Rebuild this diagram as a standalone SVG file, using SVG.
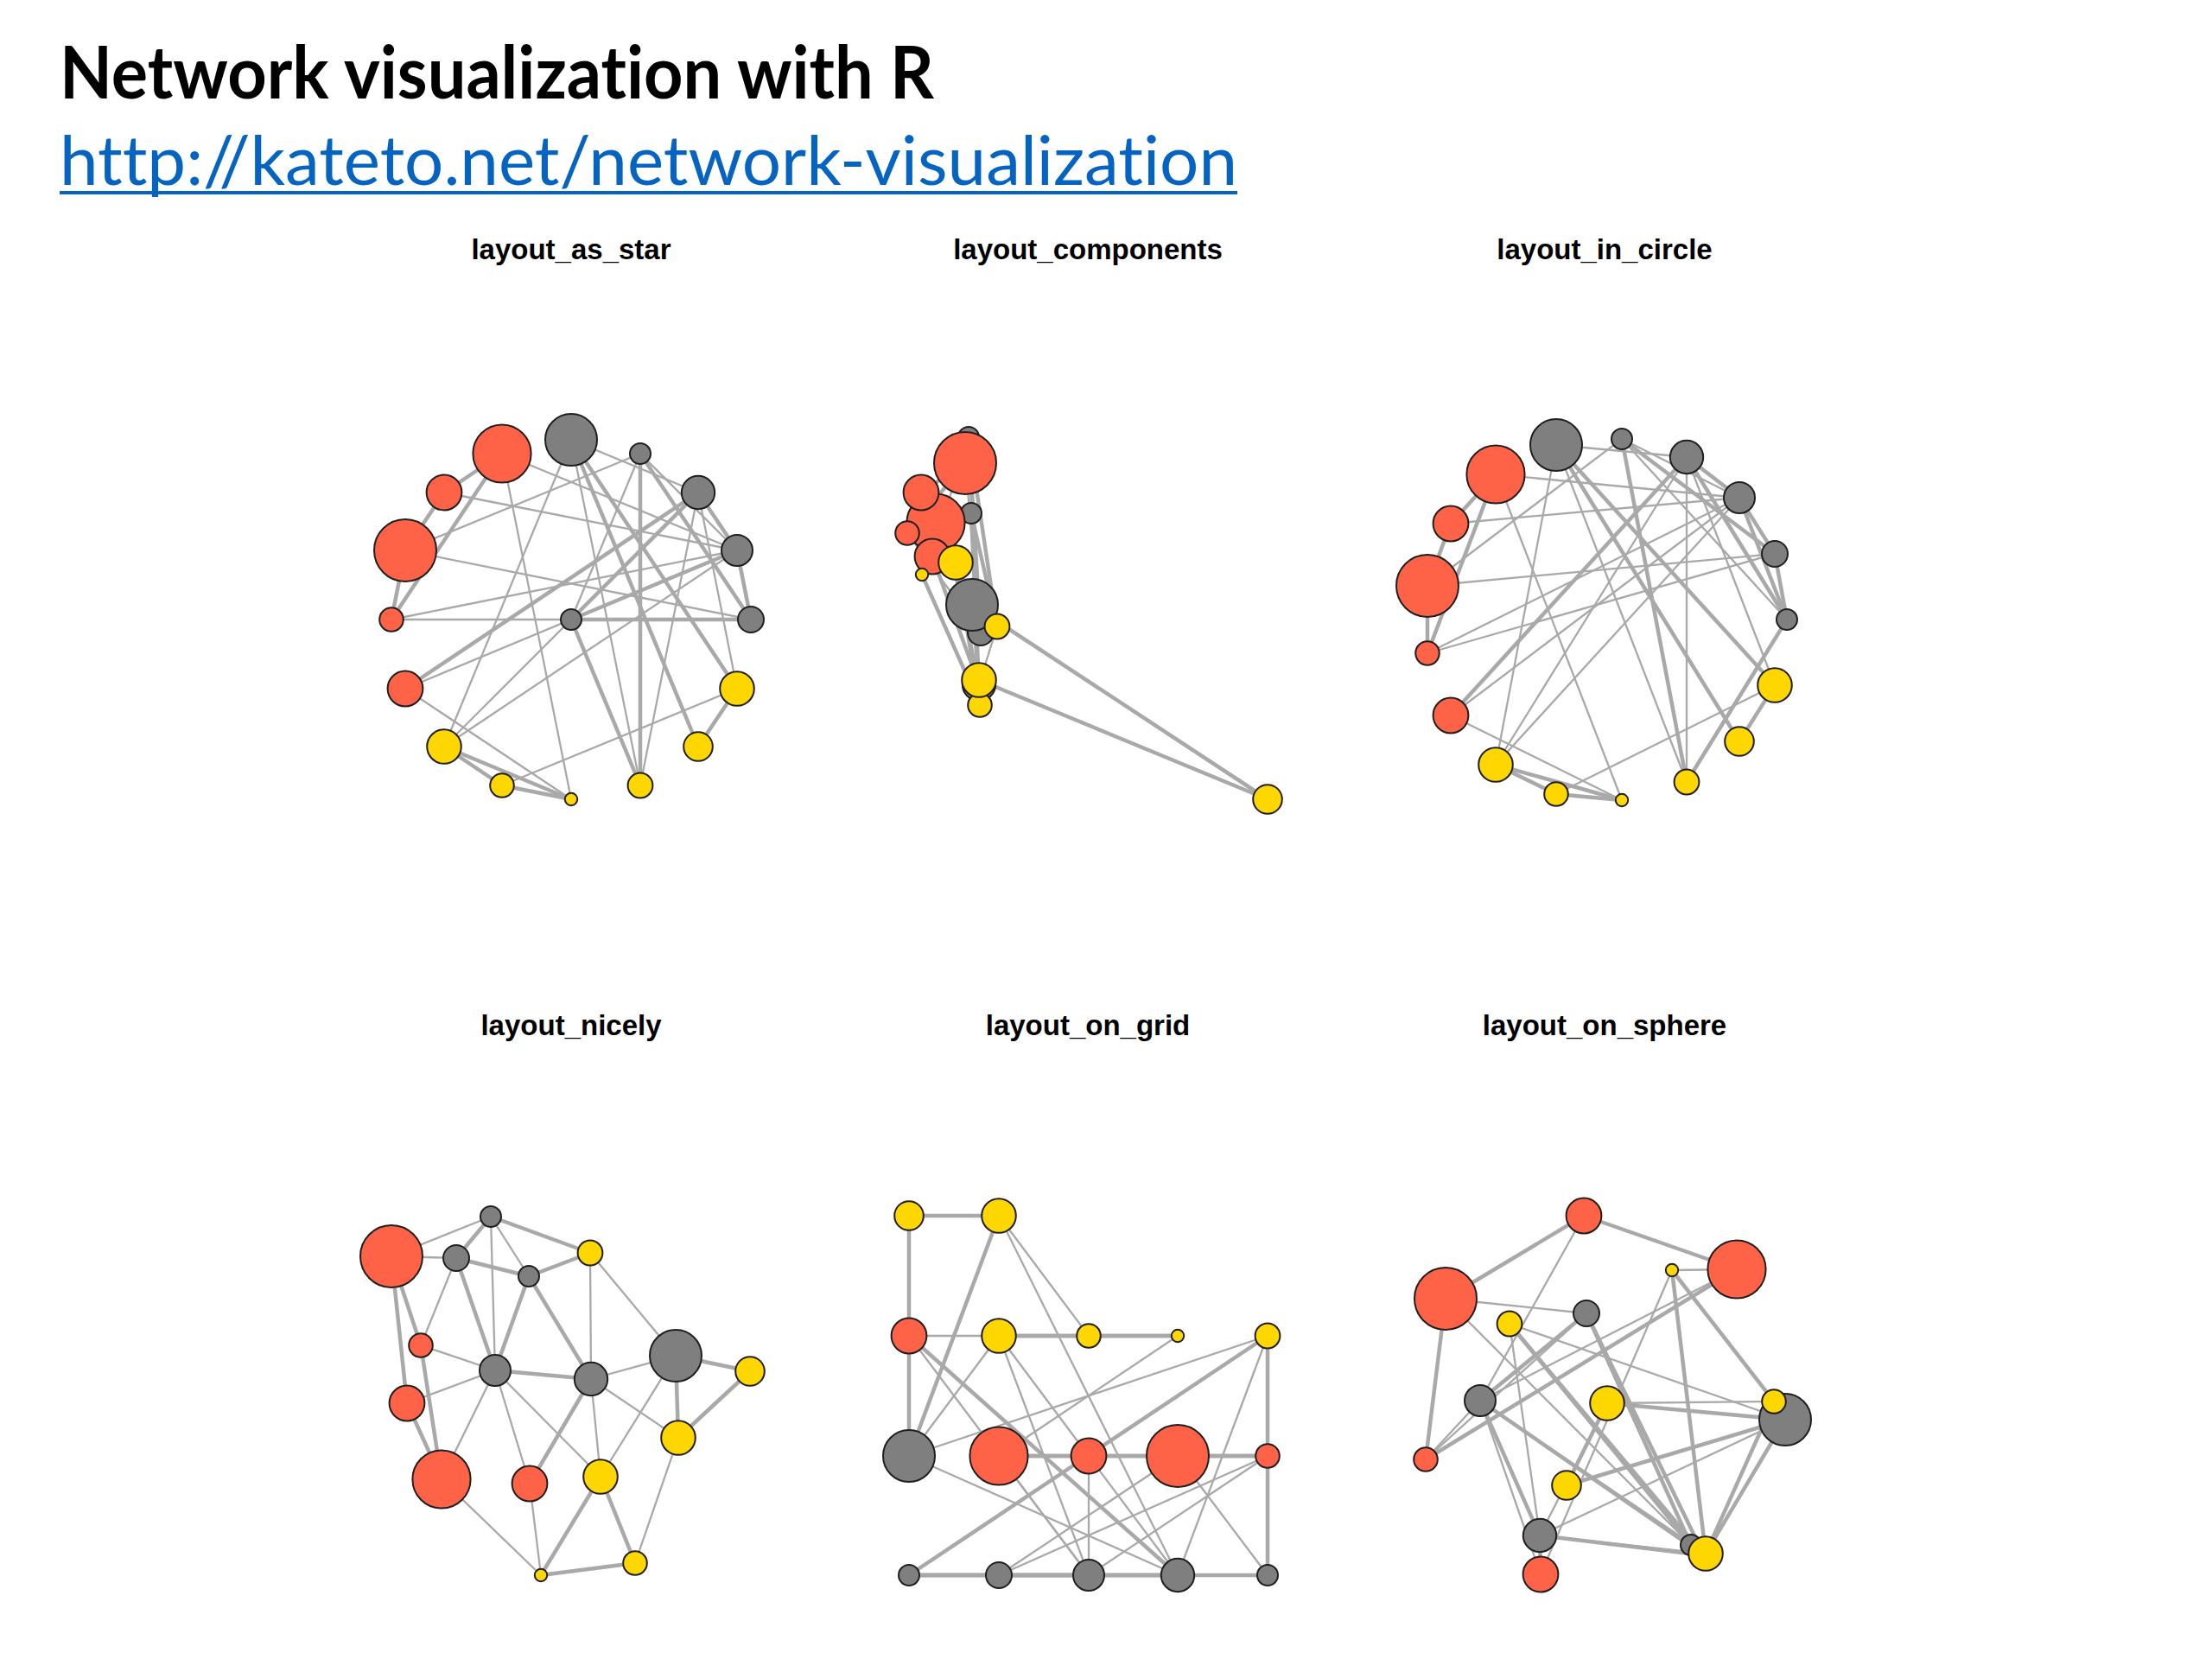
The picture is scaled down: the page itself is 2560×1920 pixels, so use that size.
<svg xmlns="http://www.w3.org/2000/svg" width="2560" height="1920" viewBox="0 0 2560 1920">
<style>
.edges line{stroke:#A9A9A9;stroke-linecap:round}
.T{stroke-width:4.5}
.t{stroke-width:2.3}
circle{stroke:#1f1f1f;stroke-width:2}
.g{fill:#7F7F7F}
.r{fill:#FF6347}
.y{fill:#FFD700}
.hd{font-family:Lato,"Open Sans",sans-serif;font-variant-ligatures:none;font-feature-settings:"liga" 0,"clig" 0}
.pt{font-family:"Liberation Sans",Arial,sans-serif;font-weight:bold;font-size:33px;text-anchor:middle;fill:#000}
</style>
<rect width="2560" height="1920" fill="#fff"/>
<g id="header">
<text class="hd" x="69" y="114" font-weight="bold" font-size="84" textLength="1012" lengthAdjust="spacingAndGlyphs" fill="#000">Network visualization with R</text>
<text class="hd" x="69" y="214" font-size="80" textLength="1363" lengthAdjust="spacingAndGlyphs" fill="#0563C1">http://kateto.net/network-visualization</text>
<rect x="69" y="221" width="1363" height="4" fill="#0563C1"/>
</g>
<g id="titles">
<text class="pt" x="661" y="300">layout_as_star</text>
<text class="pt" x="1259" y="300">layout_components</text>
<text class="pt" x="1857" y="300">layout_in_circle</text>
<text class="pt" x="661" y="1198">layout_nicely</text>
<text class="pt" x="1259" y="1198">layout_on_grid</text>
<text class="pt" x="1857" y="1198">layout_on_sphere</text>
</g>

<!-- Panel 1: layout_as_star -->
<g id="p1-edges" class="edges">
<line class="T" x1="661" y1="717" x2="869" y2="717"/>
<line class="T" x1="661" y1="717" x2="853" y2="637"/>
<line class="T" x1="661" y1="717" x2="808" y2="570"/>
<line class="T" x1="808" y1="570" x2="469" y2="797"/>
<line class="T" x1="741" y1="525" x2="741" y2="909"/>
<line class="T" x1="661" y1="509" x2="853" y2="797"/>
<line class="t" x1="853" y1="637" x2="514" y2="570"/>
<line class="T" x1="581" y1="525" x2="514" y2="570"/>
<line class="T" x1="869" y1="717" x2="853" y2="637"/>
<line class="T" x1="853" y1="637" x2="808" y2="570"/>
<line class="t" x1="853" y1="637" x2="741" y2="525"/>
<line class="t" x1="853" y1="637" x2="453" y2="717"/>
<line class="t" x1="853" y1="637" x2="469" y2="797"/>
<line class="t" x1="853" y1="637" x2="514" y2="864"/>
<line class="t" x1="808" y1="570" x2="661" y2="509"/>
<line class="t" x1="808" y1="570" x2="514" y2="864"/>
<line class="t" x1="808" y1="570" x2="853" y2="797"/>
<line class="t" x1="661" y1="717" x2="741" y2="525"/>
<line class="T" x1="869" y1="717" x2="741" y2="525"/>
<line class="t" x1="741" y1="525" x2="469" y2="637"/>
<line class="T" x1="661" y1="509" x2="808" y2="864"/>
<line class="t" x1="853" y1="637" x2="581" y2="525"/>
<line class="T" x1="581" y1="525" x2="453" y2="717"/>
<line class="t" x1="581" y1="525" x2="661" y2="925"/>
<line class="T" x1="514" y1="570" x2="469" y2="637"/>
<line class="T" x1="469" y1="637" x2="453" y2="717"/>
<line class="t" x1="661" y1="509" x2="514" y2="864"/>
<line class="T" x1="514" y1="864" x2="581" y2="909"/>
<line class="T" x1="514" y1="864" x2="661" y2="925"/>
<line class="t" x1="581" y1="909" x2="853" y2="797"/>
<line class="t" x1="469" y1="797" x2="661" y2="925"/>
<line class="T" x1="581" y1="909" x2="661" y2="925"/>
<line class="T" x1="661" y1="717" x2="741" y2="909"/>
<line class="t" x1="808" y1="570" x2="741" y2="909"/>
<line class="t" x1="661" y1="509" x2="741" y2="909"/>
<line class="T" x1="808" y1="864" x2="853" y2="797"/>
<line class="t" x1="869" y1="717" x2="469" y2="637"/>
<line class="t" x1="869" y1="717" x2="453" y2="717"/>
</g>
<g id="p1-nodes">
<g id="p1-s01"><circle class="g" cx="661" cy="717" r="12"/></g>
<g id="p1-s02"><circle class="g" cx="869" cy="717" r="15"/></g>
<g id="p1-s03"><circle class="g" cx="853" cy="637" r="18"/></g>
<g id="p1-s04"><circle class="g" cx="808" cy="570" r="19.2"/></g>
<g id="p1-s05"><circle class="g" cx="741" cy="525" r="12"/></g>
<g id="p1-s06"><circle class="g" cx="661" cy="509" r="30"/></g>
<g id="p1-s07"><circle class="r" cx="581" cy="525" r="33.6"/></g>
<g id="p1-s08"><circle class="r" cx="514" cy="570" r="20.4"/></g>
<g id="p1-s09"><circle class="r" cx="469" cy="637" r="36"/></g>
<g id="p1-s10"><circle class="r" cx="453" cy="717" r="13.8"/></g>
<g id="p1-s11"><circle class="r" cx="469" cy="797" r="20.4"/></g>
<g id="p1-s12"><circle class="y" cx="514" cy="864" r="19.8"/></g>
<g id="p1-s13"><circle class="y" cx="581" cy="909" r="13.8"/></g>
<g id="p1-s14"><circle class="y" cx="661" cy="925" r="7.2"/></g>
<g id="p1-s15"><circle class="y" cx="741" cy="909" r="14.4"/></g>
<g id="p1-s16"><circle class="y" cx="808" cy="864" r="16.8"/></g>
<g id="p1-s17"><circle class="y" cx="853" cy="797" r="19.8"/></g>
</g>

<!-- Panel 2: layout_components -->
<g id="p2-edges" class="edges">
<line class="T" x1="1124" y1="594" x2="1135" y2="732"/>
<line class="T" x1="1124" y1="594" x2="1092" y2="598"/>
<line class="T" x1="1124" y1="594" x2="1133" y2="792"/>
<line class="T" x1="1133" y1="792" x2="1079" y2="644"/>
<line class="T" x1="1121" y1="506" x2="1154" y2="725"/>
<line class="T" x1="1125" y1="700" x2="1133" y2="787"/>
<line class="t" x1="1092" y1="598" x2="1066" y2="570"/>
<line class="T" x1="1083" y1="605" x2="1066" y2="570"/>
<line class="T" x1="1135" y1="732" x2="1092" y2="598"/>
<line class="T" x1="1092" y1="598" x2="1133" y2="792"/>
<line class="t" x1="1092" y1="598" x2="1121" y2="506"/>
<line class="t" x1="1092" y1="598" x2="1050" y2="617"/>
<line class="t" x1="1092" y1="598" x2="1079" y2="644"/>
<line class="t" x1="1092" y1="598" x2="1106" y2="651"/>
<line class="t" x1="1133" y1="792" x2="1125" y2="700"/>
<line class="t" x1="1133" y1="792" x2="1106" y2="651"/>
<line class="t" x1="1124" y1="594" x2="1121" y2="506"/>
<line class="T" x1="1135" y1="732" x2="1121" y2="506"/>
<line class="t" x1="1121" y1="506" x2="1117" y2="536"/>
<line class="T" x1="1125" y1="700" x2="1467" y2="925"/>
<line class="t" x1="1092" y1="598" x2="1083" y2="605"/>
<line class="T" x1="1083" y1="605" x2="1050" y2="617"/>
<line class="t" x1="1083" y1="605" x2="1067" y2="665"/>
<line class="T" x1="1066" y1="570" x2="1117" y2="536"/>
<line class="T" x1="1117" y1="536" x2="1050" y2="617"/>
<line class="t" x1="1125" y1="700" x2="1106" y2="651"/>
<line class="T" x1="1106" y1="651" x2="1134" y2="816"/>
<line class="T" x1="1106" y1="651" x2="1067" y2="665"/>
<line class="t" x1="1134" y1="816" x2="1133" y2="787"/>
<line class="t" x1="1079" y1="644" x2="1067" y2="665"/>
<line class="T" x1="1134" y1="816" x2="1067" y2="665"/>
<line class="T" x1="1124" y1="594" x2="1154" y2="725"/>
<line class="t" x1="1133" y1="792" x2="1154" y2="725"/>
<line class="t" x1="1125" y1="700" x2="1154" y2="725"/>
<line class="T" x1="1467" y1="925" x2="1133" y2="787"/>
<line class="t" x1="1135" y1="732" x2="1117" y2="536"/>
<line class="t" x1="1135" y1="732" x2="1050" y2="617"/>
</g>
<g id="p2-nodes">
<g id="p2-s01"><circle class="g" cx="1124" cy="594" r="12"/></g>
<g id="p2-s02"><circle class="g" cx="1135" cy="732" r="15"/></g>
<g id="p2-s03"><circle class="g" cx="1092" cy="598" r="18"/></g>
<g id="p2-s04"><circle class="g" cx="1133" cy="792" r="19.2"/></g>
<g id="p2-s05"><circle class="g" cx="1121" cy="506" r="12"/></g>
<g id="p2-s06"><circle class="g" cx="1125" cy="700" r="30"/></g>
<g id="p2-s07"><circle class="r" cx="1083" cy="605" r="33.6"/></g>
<g id="p2-s08"><circle class="r" cx="1066" cy="570" r="20.4"/></g>
<g id="p2-s09"><circle class="r" cx="1117" cy="536" r="36"/></g>
<g id="p2-s10"><circle class="r" cx="1050" cy="617" r="13.8"/></g>
<g id="p2-s11"><circle class="r" cx="1079" cy="644" r="20.4"/></g>
<g id="p2-s12"><circle class="y" cx="1106" cy="651" r="19.8"/></g>
<g id="p2-s13"><circle class="y" cx="1134" cy="816" r="13.8"/></g>
<g id="p2-s14"><circle class="y" cx="1067" cy="665" r="7.2"/></g>
<g id="p2-s15"><circle class="y" cx="1154" cy="725" r="14.4"/></g>
<g id="p2-s16"><circle class="y" cx="1467" cy="925" r="16.8"/></g>
<g id="p2-s17"><circle class="y" cx="1133" cy="787" r="19.8"/></g>
</g>

<!-- Panel 3: layout_in_circle -->
<g id="p3-edges" class="edges">
<line class="T" x1="2068" y1="717" x2="2054" y2="641"/>
<line class="T" x1="2068" y1="717" x2="2013" y2="576"/>
<line class="T" x1="2068" y1="717" x2="1952" y2="529"/>
<line class="T" x1="1952" y1="529" x2="1679" y2="828"/>
<line class="T" x1="1877" y1="508" x2="1952" y2="905"/>
<line class="T" x1="1801" y1="515" x2="2054" y2="793"/>
<line class="t" x1="2013" y1="576" x2="1679" y2="606"/>
<line class="T" x1="1731" y1="549" x2="1679" y2="606"/>
<line class="T" x1="2054" y1="641" x2="2013" y2="576"/>
<line class="T" x1="2013" y1="576" x2="1952" y2="529"/>
<line class="t" x1="2013" y1="576" x2="1877" y2="508"/>
<line class="t" x1="2013" y1="576" x2="1652" y2="756"/>
<line class="t" x1="2013" y1="576" x2="1679" y2="828"/>
<line class="t" x1="2013" y1="576" x2="1731" y2="885"/>
<line class="t" x1="1952" y1="529" x2="1801" y2="515"/>
<line class="t" x1="1952" y1="529" x2="1731" y2="885"/>
<line class="t" x1="1952" y1="529" x2="2054" y2="793"/>
<line class="t" x1="2068" y1="717" x2="1877" y2="508"/>
<line class="T" x1="2054" y1="641" x2="1877" y2="508"/>
<line class="t" x1="1877" y1="508" x2="1652" y2="678"/>
<line class="T" x1="1801" y1="515" x2="2013" y2="858"/>
<line class="t" x1="2013" y1="576" x2="1731" y2="549"/>
<line class="T" x1="1731" y1="549" x2="1652" y2="756"/>
<line class="t" x1="1731" y1="549" x2="1877" y2="926"/>
<line class="T" x1="1679" y1="606" x2="1652" y2="678"/>
<line class="T" x1="1652" y1="678" x2="1652" y2="756"/>
<line class="t" x1="1801" y1="515" x2="1731" y2="885"/>
<line class="T" x1="1731" y1="885" x2="1801" y2="919"/>
<line class="T" x1="1731" y1="885" x2="1877" y2="926"/>
<line class="t" x1="1801" y1="919" x2="2054" y2="793"/>
<line class="t" x1="1679" y1="828" x2="1877" y2="926"/>
<line class="T" x1="1801" y1="919" x2="1877" y2="926"/>
<line class="T" x1="2068" y1="717" x2="1952" y2="905"/>
<line class="t" x1="1952" y1="529" x2="1952" y2="905"/>
<line class="t" x1="1801" y1="515" x2="1952" y2="905"/>
<line class="T" x1="2013" y1="858" x2="2054" y2="793"/>
<line class="t" x1="2054" y1="641" x2="1652" y2="678"/>
<line class="t" x1="2054" y1="641" x2="1652" y2="756"/>
</g>
<g id="p3-nodes">
<g id="p3-s01"><circle class="g" cx="2068" cy="717" r="12"/></g>
<g id="p3-s02"><circle class="g" cx="2054" cy="641" r="15"/></g>
<g id="p3-s03"><circle class="g" cx="2013" cy="576" r="18"/></g>
<g id="p3-s04"><circle class="g" cx="1952" cy="529" r="19.2"/></g>
<g id="p3-s05"><circle class="g" cx="1877" cy="508" r="12"/></g>
<g id="p3-s06"><circle class="g" cx="1801" cy="515" r="30"/></g>
<g id="p3-s07"><circle class="r" cx="1731" cy="549" r="33.6"/></g>
<g id="p3-s08"><circle class="r" cx="1679" cy="606" r="20.4"/></g>
<g id="p3-s09"><circle class="r" cx="1652" cy="678" r="36"/></g>
<g id="p3-s10"><circle class="r" cx="1652" cy="756" r="13.8"/></g>
<g id="p3-s11"><circle class="r" cx="1679" cy="828" r="20.4"/></g>
<g id="p3-s12"><circle class="y" cx="1731" cy="885" r="19.8"/></g>
<g id="p3-s13"><circle class="y" cx="1801" cy="919" r="13.8"/></g>
<g id="p3-s14"><circle class="y" cx="1877" cy="926" r="7.2"/></g>
<g id="p3-s15"><circle class="y" cx="1952" cy="905" r="14.4"/></g>
<g id="p3-s16"><circle class="y" cx="2013" cy="858" r="16.8"/></g>
<g id="p3-s17"><circle class="y" cx="2054" cy="793" r="19.8"/></g>
</g>

<!-- Panel 4: layout_nicely -->
<g id="p4-edges" class="edges">
<line class="T" x1="612" y1="1477" x2="528" y2="1456"/>
<line class="T" x1="612" y1="1477" x2="573" y2="1586"/>
<line class="T" x1="612" y1="1477" x2="684" y2="1596"/>
<line class="T" x1="684" y1="1596" x2="613" y2="1717"/>
<line class="T" x1="568" y1="1408" x2="683" y2="1450"/>
<line class="T" x1="782" y1="1569" x2="785" y2="1664"/>
<line class="t" x1="573" y1="1586" x2="471" y2="1624"/>
<line class="T" x1="511" y1="1712" x2="471" y2="1624"/>
<line class="T" x1="528" y1="1456" x2="573" y2="1586"/>
<line class="T" x1="573" y1="1586" x2="684" y2="1596"/>
<line class="t" x1="573" y1="1586" x2="568" y2="1408"/>
<line class="t" x1="573" y1="1586" x2="487" y2="1557"/>
<line class="t" x1="573" y1="1586" x2="613" y2="1717"/>
<line class="t" x1="573" y1="1586" x2="695" y2="1709"/>
<line class="t" x1="684" y1="1596" x2="782" y2="1569"/>
<line class="t" x1="684" y1="1596" x2="695" y2="1709"/>
<line class="t" x1="684" y1="1596" x2="785" y2="1664"/>
<line class="t" x1="612" y1="1477" x2="568" y2="1408"/>
<line class="T" x1="528" y1="1456" x2="568" y2="1408"/>
<line class="t" x1="568" y1="1408" x2="453" y2="1454"/>
<line class="T" x1="782" y1="1569" x2="868" y2="1587"/>
<line class="t" x1="573" y1="1586" x2="511" y2="1712"/>
<line class="T" x1="511" y1="1712" x2="487" y2="1557"/>
<line class="t" x1="511" y1="1712" x2="626" y2="1823"/>
<line class="T" x1="471" y1="1624" x2="453" y2="1454"/>
<line class="T" x1="453" y1="1454" x2="487" y2="1557"/>
<line class="t" x1="782" y1="1569" x2="695" y2="1709"/>
<line class="T" x1="695" y1="1709" x2="735" y2="1809"/>
<line class="T" x1="695" y1="1709" x2="626" y2="1823"/>
<line class="t" x1="735" y1="1809" x2="785" y2="1664"/>
<line class="t" x1="613" y1="1717" x2="626" y2="1823"/>
<line class="T" x1="735" y1="1809" x2="626" y2="1823"/>
<line class="T" x1="612" y1="1477" x2="683" y2="1450"/>
<line class="t" x1="684" y1="1596" x2="683" y2="1450"/>
<line class="t" x1="782" y1="1569" x2="683" y2="1450"/>
<line class="T" x1="868" y1="1587" x2="785" y2="1664"/>
<line class="t" x1="528" y1="1456" x2="453" y2="1454"/>
<line class="t" x1="528" y1="1456" x2="487" y2="1557"/>
</g>
<g id="p4-nodes">
<g id="p4-s01"><circle class="g" cx="612" cy="1477" r="12"/></g>
<g id="p4-s02"><circle class="g" cx="528" cy="1456" r="15"/></g>
<g id="p4-s03"><circle class="g" cx="573" cy="1586" r="18"/></g>
<g id="p4-s04"><circle class="g" cx="684" cy="1596" r="19.2"/></g>
<g id="p4-s05"><circle class="g" cx="568" cy="1408" r="12"/></g>
<g id="p4-s06"><circle class="g" cx="782" cy="1569" r="30"/></g>
<g id="p4-s07"><circle class="r" cx="511" cy="1712" r="33.6"/></g>
<g id="p4-s08"><circle class="r" cx="471" cy="1624" r="20.4"/></g>
<g id="p4-s09"><circle class="r" cx="453" cy="1454" r="36"/></g>
<g id="p4-s10"><circle class="r" cx="487" cy="1557" r="13.8"/></g>
<g id="p4-s11"><circle class="r" cx="613" cy="1717" r="20.4"/></g>
<g id="p4-s12"><circle class="y" cx="695" cy="1709" r="19.8"/></g>
<g id="p4-s13"><circle class="y" cx="735" cy="1809" r="13.8"/></g>
<g id="p4-s14"><circle class="y" cx="626" cy="1823" r="7.2"/></g>
<g id="p4-s15"><circle class="y" cx="683" cy="1450" r="14.4"/></g>
<g id="p4-s16"><circle class="y" cx="868" cy="1587" r="16.8"/></g>
<g id="p4-s17"><circle class="y" cx="785" cy="1664" r="19.8"/></g>
</g>

<!-- Panel 5: layout_on_grid -->
<g id="p5-edges" class="edges">
<line class="T" x1="1052" y1="1823" x2="1156" y2="1823"/>
<line class="T" x1="1052" y1="1823" x2="1260" y2="1823"/>
<line class="T" x1="1052" y1="1823" x2="1363" y2="1823"/>
<line class="T" x1="1363" y1="1823" x2="1052" y2="1546"/>
<line class="T" x1="1467" y1="1823" x2="1467" y2="1546"/>
<line class="T" x1="1052" y1="1685" x2="1156" y2="1407"/>
<line class="t" x1="1260" y1="1823" x2="1260" y2="1685"/>
<line class="T" x1="1156" y1="1685" x2="1260" y2="1685"/>
<line class="T" x1="1156" y1="1823" x2="1260" y2="1823"/>
<line class="T" x1="1260" y1="1823" x2="1363" y2="1823"/>
<line class="t" x1="1260" y1="1823" x2="1467" y2="1823"/>
<line class="t" x1="1260" y1="1823" x2="1467" y2="1685"/>
<line class="t" x1="1260" y1="1823" x2="1052" y2="1546"/>
<line class="t" x1="1260" y1="1823" x2="1156" y2="1546"/>
<line class="t" x1="1363" y1="1823" x2="1052" y2="1685"/>
<line class="t" x1="1363" y1="1823" x2="1156" y2="1546"/>
<line class="t" x1="1363" y1="1823" x2="1156" y2="1407"/>
<line class="t" x1="1052" y1="1823" x2="1467" y2="1823"/>
<line class="T" x1="1156" y1="1823" x2="1467" y2="1823"/>
<line class="t" x1="1467" y1="1823" x2="1363" y2="1685"/>
<line class="T" x1="1052" y1="1685" x2="1052" y2="1407"/>
<line class="t" x1="1260" y1="1823" x2="1156" y2="1685"/>
<line class="T" x1="1156" y1="1685" x2="1467" y2="1685"/>
<line class="t" x1="1156" y1="1685" x2="1363" y2="1546"/>
<line class="T" x1="1260" y1="1685" x2="1363" y2="1685"/>
<line class="T" x1="1363" y1="1685" x2="1467" y2="1685"/>
<line class="t" x1="1052" y1="1685" x2="1156" y2="1546"/>
<line class="T" x1="1156" y1="1546" x2="1260" y2="1546"/>
<line class="T" x1="1156" y1="1546" x2="1363" y2="1546"/>
<line class="t" x1="1260" y1="1546" x2="1156" y2="1407"/>
<line class="t" x1="1052" y1="1546" x2="1363" y2="1546"/>
<line class="T" x1="1260" y1="1546" x2="1363" y2="1546"/>
<line class="T" x1="1052" y1="1823" x2="1467" y2="1546"/>
<line class="t" x1="1363" y1="1823" x2="1467" y2="1546"/>
<line class="t" x1="1052" y1="1685" x2="1467" y2="1546"/>
<line class="T" x1="1052" y1="1407" x2="1156" y2="1407"/>
<line class="t" x1="1156" y1="1823" x2="1363" y2="1685"/>
<line class="t" x1="1156" y1="1823" x2="1467" y2="1685"/>
</g>
<g id="p5-nodes">
<g id="p5-s01"><circle class="g" cx="1052" cy="1823" r="12"/></g>
<g id="p5-s02"><circle class="g" cx="1156" cy="1823" r="15"/></g>
<g id="p5-s03"><circle class="g" cx="1260" cy="1823" r="18"/></g>
<g id="p5-s04"><circle class="g" cx="1363" cy="1823" r="19.2"/></g>
<g id="p5-s05"><circle class="g" cx="1467" cy="1823" r="12"/></g>
<g id="p5-s06"><circle class="g" cx="1052" cy="1685" r="30"/></g>
<g id="p5-s07"><circle class="r" cx="1156" cy="1685" r="33.6"/></g>
<g id="p5-s08"><circle class="r" cx="1260" cy="1685" r="20.4"/></g>
<g id="p5-s09"><circle class="r" cx="1363" cy="1685" r="36"/></g>
<g id="p5-s10"><circle class="r" cx="1467" cy="1685" r="13.8"/></g>
<g id="p5-s11"><circle class="r" cx="1052" cy="1546" r="20.4"/></g>
<g id="p5-s12"><circle class="y" cx="1156" cy="1546" r="19.8"/></g>
<g id="p5-s13"><circle class="y" cx="1260" cy="1546" r="13.8"/></g>
<g id="p5-s14"><circle class="y" cx="1363" cy="1546" r="7.2"/></g>
<g id="p5-s15"><circle class="y" cx="1467" cy="1546" r="14.4"/></g>
<g id="p5-s16"><circle class="y" cx="1052" cy="1407" r="16.8"/></g>
<g id="p5-s17"><circle class="y" cx="1156" cy="1407" r="19.8"/></g>
</g>

<!-- Panel 6: layout_on_sphere -->
<g id="p6-edges" class="edges">
<line class="T" x1="1972" y1="1800" x2="1836" y2="1520"/>
<line class="T" x1="1972" y1="1800" x2="1713" y2="1621"/>
<line class="T" x1="1972" y1="1800" x2="1782" y2="1777"/>
<line class="T" x1="1782" y1="1777" x2="1783" y2="1822"/>
<line class="T" x1="1957" y1="1788" x2="1747" y2="1532"/>
<line class="T" x1="2066" y1="1643" x2="1860" y2="1624"/>
<line class="t" x1="1713" y1="1621" x2="1833" y2="1407"/>
<line class="T" x1="2010" y1="1469" x2="1833" y2="1407"/>
<line class="T" x1="1836" y1="1520" x2="1713" y2="1621"/>
<line class="T" x1="1713" y1="1621" x2="1782" y2="1777"/>
<line class="t" x1="1713" y1="1621" x2="1957" y2="1788"/>
<line class="t" x1="1713" y1="1621" x2="1650" y2="1689"/>
<line class="t" x1="1713" y1="1621" x2="1783" y2="1822"/>
<line class="t" x1="1713" y1="1621" x2="1974" y2="1798"/>
<line class="t" x1="1782" y1="1777" x2="2066" y2="1643"/>
<line class="t" x1="1782" y1="1777" x2="1974" y2="1798"/>
<line class="t" x1="1782" y1="1777" x2="1860" y2="1624"/>
<line class="t" x1="1972" y1="1800" x2="1957" y2="1788"/>
<line class="T" x1="1836" y1="1520" x2="1957" y2="1788"/>
<line class="t" x1="1957" y1="1788" x2="1673" y2="1503"/>
<line class="T" x1="2066" y1="1643" x2="1813" y2="1719"/>
<line class="t" x1="1713" y1="1621" x2="2010" y2="1469"/>
<line class="T" x1="2010" y1="1469" x2="1650" y2="1689"/>
<line class="t" x1="2010" y1="1469" x2="1935" y2="1470"/>
<line class="T" x1="1833" y1="1407" x2="1673" y2="1503"/>
<line class="T" x1="1673" y1="1503" x2="1650" y2="1689"/>
<line class="T" x1="2066" y1="1643" x2="1974" y2="1798"/>
<line class="T" x1="1974" y1="1798" x2="2053" y2="1622"/>
<line class="T" x1="1974" y1="1798" x2="1935" y2="1470"/>
<line class="t" x1="2053" y1="1622" x2="1860" y2="1624"/>
<line class="t" x1="1783" y1="1822" x2="1935" y2="1470"/>
<line class="T" x1="2053" y1="1622" x2="1935" y2="1470"/>
<line class="T" x1="1972" y1="1800" x2="1747" y2="1532"/>
<line class="t" x1="1782" y1="1777" x2="1747" y2="1532"/>
<line class="t" x1="2066" y1="1643" x2="1747" y2="1532"/>
<line class="T" x1="1813" y1="1719" x2="1860" y2="1624"/>
<line class="t" x1="1836" y1="1520" x2="1673" y2="1503"/>
<line class="t" x1="1836" y1="1520" x2="1650" y2="1689"/>
</g>
<g id="p6-nodes">
<g id="p6-s01"><circle class="g" cx="1972" cy="1800" r="12"/></g>
<g id="p6-s02"><circle class="g" cx="1836" cy="1520" r="15"/></g>
<g id="p6-s03"><circle class="g" cx="1713" cy="1621" r="18"/></g>
<g id="p6-s04"><circle class="g" cx="1782" cy="1777" r="19.2"/></g>
<g id="p6-s05"><circle class="g" cx="1957" cy="1788" r="12"/></g>
<g id="p6-s06"><circle class="g" cx="2066" cy="1643" r="30"/></g>
<g id="p6-s07"><circle class="r" cx="2010" cy="1469" r="33.6"/></g>
<g id="p6-s08"><circle class="r" cx="1833" cy="1407" r="20.4"/></g>
<g id="p6-s09"><circle class="r" cx="1673" cy="1503" r="36"/></g>
<g id="p6-s10"><circle class="r" cx="1650" cy="1689" r="13.8"/></g>
<g id="p6-s11"><circle class="r" cx="1783" cy="1822" r="20.4"/></g>
<g id="p6-s12"><circle class="y" cx="1974" cy="1798" r="19.8"/></g>
<g id="p6-s13"><circle class="y" cx="2053" cy="1622" r="13.8"/></g>
<g id="p6-s14"><circle class="y" cx="1935" cy="1470" r="7.2"/></g>
<g id="p6-s15"><circle class="y" cx="1747" cy="1532" r="14.4"/></g>
<g id="p6-s16"><circle class="y" cx="1813" cy="1719" r="16.8"/></g>
<g id="p6-s17"><circle class="y" cx="1860" cy="1624" r="19.8"/></g>
</g>
</svg>
